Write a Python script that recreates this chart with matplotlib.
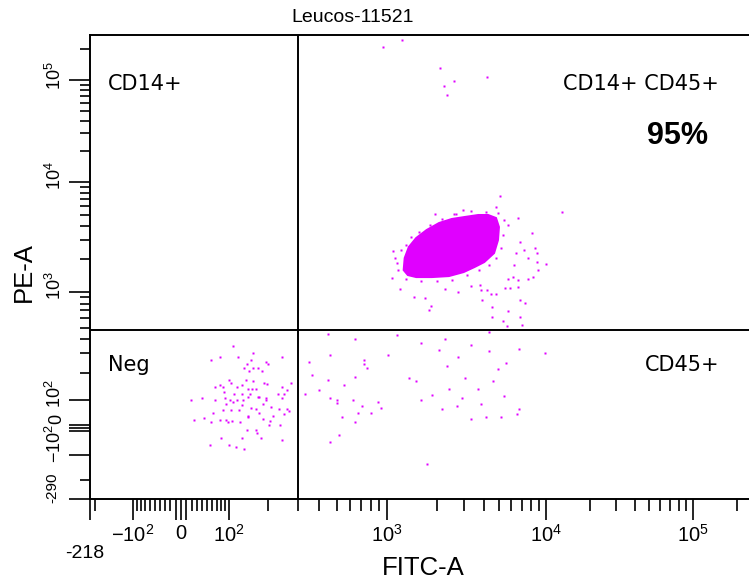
import numpy as np
import matplotlib
matplotlib.use('Agg')
import matplotlib.pyplot as plt
from matplotlib import font_manager as fm
from matplotlib.ticker import FixedLocator, NullFormatter
from matplotlib.patches import Polygon
from matplotlib.transforms import ScaledTranslation

# ---------------- data ----------------
title = "Leucos-11521"
x_label = "FITC-A"
y_label = "PE-A"
quadrant_labels = ["CD14+", "CD14+ CD45+", "Neg", "CD45+"]
percent_label = "95%"
gate_fitc = 300
gate_pe = 480

# dense main population (outline of the solid region)
blob_fitc = [1261, 1279, 1355, 1500, 1733, 2063, 2489, 3007, 3681, 4256, 4780,
             4990, 4920, 4645, 4017, 3474, 2963, 2384, 1862, 1500, 1336]
blob_pe = [1585, 2037, 2565, 3097, 3660, 4239, 4610, 4806, 5012, 5012, 4706,
           3899, 2970, 2263, 1874, 1688, 1520, 1398, 1369, 1369, 1428]

# events on the fuzzy rim of the dense population
rim_fitc = [1123, 1173, 1207, 1298, 1396, 1567, 1811, 2154, 2564, 3326, 4129, 4920,
            5370, 5289, 5140, 4780, 4313, 3733, 3097, 2489, 2004, 1613, 1298]
rim_pe = [2037, 1585, 2408, 2673, 3162, 3511, 4064, 4610, 5117, 5445, 5337, 5227,
          4518, 3296, 2512, 2037, 1758, 1585, 1428, 1285, 1259, 1259, 1313]

# Neg quadrant events
neg_fitc = [109, 58, 77, 119, 156, 242, 140, 151, 193, 200, 133, 156, 145, 170, 180,
            100, 105, 138, 156, 186, 197, 273, 77, 67, 85, 117, 128, 143, 153, 164,
            242, 259, 88, 111, 128, 148, 170, 193, 229, 249, 19, 40, 67, 90, 102,
            117, 131, 143, 174, 193, 242, 92, 109, 128, 151, 164, 183, 208, 232, 259,
            266, 62, 85, 105, 122, 143, 174, 214, 249, 25, 44, 58, 77, 92, 98,
            107, 124, 143, 183, 203, 205, 235, 140, 164, 167, 128, 177, 81, 242, 56,
            100, 114, 133]
neg_pe = [349, 264, 280, 280, 303, 280, 244, 264, 254, 244, 221, 221, 208, 221, 208,
          171, 159, 171, 167, 159, 155, 159, 151, 143, 143, 143, 151, 136, 136, 136,
          143, 133, 126, 120, 120, 120, 108, 105, 120, 120, 100, 105, 100, 105, 100,
          100, 100, 108, 108, 100, 105, 82, 93, 79, 68, 64, 82, 71, 64, 64,
          57, 50, 61, 61, 61, 39, 50, 39, 46, 25, 32, 18, 25, 25, 18,
          21, 18, 36, 29, 11, 21, 11, -7, -7, -15, -33, -33, -33, -41, -59,
          -59, -67, -74]

# CD45+ quadrant events
cd45_fitc = [447, 642, 1015, 458, 348, 727, 727, 758, 364, 447, 642, 551, 400, 330,
             458, 500, 500, 624, 883, 707, 920, 801, 669, 536, 642, 514, 458,
             1613, 2063, 2716, 2317, 3326, 4313, 5520, 6668, 9863, 1500, 1862, 2384,
             2878, 3681, 4571, 5370, 6668, 2154, 2678, 3326, 4129, 5140, 6471, 1733,
             1355, 1613, 4920, 3007, 3846, 1156, 2249, 4313]
cd45_pe = [443, 401, 292, 292, 254, 264, 244, 221, 190, 171, 180, 151, 133, 120,
           105, 100, 89, 100, 93, 75, 68, 50, 50, 36, 18, -22, -48,
           370, 322, 280, 230, 356, 316, 249, 329, 303, 167, 114, 136,
           105, 136, 167, 111, 64, 64, 75, 29, 36, 36, 46, -132,
           176, 100, 216, 176, 82, 434, 401, 461]

# CD14+ CD45+ quadrant sparse events (outside the dense core)
dp_fitc = [1225, 946, 2094, 4196, 2564, 2218, 2317,
           5058, 12850, 1945, 2636, 2917, 4780, 8166, 10000, 8913, 8777, 7704, 7278,
           1091, 1156, 1075, 1190, 1459, 1683, 1837, 1786, 2249, 2716, 3846, 4196,
           4446, 4780, 3899, 4508, 4508, 5445, 5852, 6571, 6765, 7382, 5689, 5289,
           5603, 6855, 7063, 6571, 7704, 5689, 3326, 3793, 8282, 6855, 6383, 6197,
           6108, 8531, 8777, 5689, 6571]
dp_pe = [246600, 210900, 131200, 107000, 97800, 87300, 71300,
         7460, 5337, 5117, 5117, 5560, 5928, 3434, 1797, 1585, 1874, 2037, 2408,
         2360, 1837, 1341, 1065, 906, 888, 758, 700, 1065, 1000, 1043, 1043,
         960, 960, 853, 743, 620, 1087, 1087, 1110, 853, 804, 686, 574,
         520, 620, 530, 1285, 1313, 1313, 1134, 1158, 1369, 2848, 2263, 1758,
         1369, 2512, 2263, 4064, 4706]

# tick values / labels
x_major = [-218, -100, -10, 0, 10, 100, 1000, 10000, 100000]
x_major_labels = ["", r"$\mathregular{-10^{2}}$", "", "0", "", r"$\mathregular{10^{2}}$",
                  r"$\mathregular{10^{3}}$", r"$\mathregular{10^{4}}$", r"$\mathregular{10^{5}}$"]
x_minor = ([-200] + list(range(-90, -10, 10)) + list(range(20, 100, 10)) +
           list(range(200, 1000, 100)) + list(range(2000, 10000, 1000)) +
           list(range(20000, 100000, 10000)) + [200000])
y_major = [-290, -100, -10, 0, 10, 100, 1000, 10000, 100000]
y_major_labels = ["", r"$\mathregular{-10^{2}}$", "", "0", "", r"$\mathregular{10^{2}}$",
                  r"$\mathregular{10^{3}}$", r"$\mathregular{10^{4}}$", r"$\mathregular{10^{5}}$"]
y_minor = ([-200] + list(range(200, 1000, 100)) + list(range(2000, 10000, 1000)) +
           list(range(20000, 100000, 10000)) + [200000])

# ---------------- biexponential-like display scale ----------------
x_anchor_v = np.array([-218, -100, 0, 100, 200, 300, 400, 500, 1000, 2000, 10000, 100000, 262144], float)
x_anchor_p = np.array([90, 133, 181, 229, 268, 298, 319, 337, 387, 437, 546, 693, 754], float) - 90
y_anchor_v = np.array([-290, -200, -100, 0, 100, 200, 1000, 10000, 100000, 300000], float)
y_anchor_p = 499 - np.array([499, 480, 455, 428, 400, 373, 292, 182, 80, 31], float)

def _g(v):
    return np.arcsinh(np.asarray(v, float) / 100.0)

def _ginv(u):
    return 100.0 * np.sinh(np.asarray(u, float))

def make_scale(av, ap):
    gv = _g(av)
    def fwd(v):
        return np.interp(_g(v), gv, ap)
    def inv(p):
        return _ginv(np.interp(np.asarray(p, float), ap, gv))
    return fwd, inv

fx, ix = make_scale(x_anchor_v, x_anchor_p)
fy, iy = make_scale(y_anchor_v, y_anchor_p)

# ---------------- fonts ----------------
names = {f.name for f in fm.fontManager.ttflist}
NARROW = 'Liberation Sans Narrow' if 'Liberation Sans Narrow' in names else 'Liberation Sans'
plt.rcParams['font.family'] = [NARROW, 'DejaVu Sans']
plt.rcParams['mathtext.fontset'] = 'custom'
plt.rcParams['mathtext.rm'] = NARROW
plt.rcParams['mathtext.it'] = NARROW
plt.rcParams['mathtext.bf'] = NARROW

W, H = 749, 582
fig = plt.figure(figsize=(W / 100, H / 100), dpi=100)
fig.patch.set_facecolor('white')
ax = fig.add_axes([90 / W, 1 - 499 / H, 659 / W, 464 / H])

ax.set_xscale('function', functions=(fx, ix))
ax.set_yscale('function', functions=(fy, iy))
ax.set_xlim(-218, float(ix(659)))
ax.set_ylim(-290, float(iy(464)))

dot = '#E000FF'
ax.add_patch(Polygon(np.column_stack([blob_fitc, blob_pe]), closed=True,
                     facecolor=dot, edgecolor=dot, lw=1.5, zorder=2))
for xs, ys in [(rim_fitc, rim_pe), (neg_fitc, neg_pe), (cd45_fitc, cd45_pe), (dp_fitc, dp_pe)]:
    ax.plot(xs, ys, 's', color=dot, ms=1.8, mec='none', zorder=3)

# gates
ax.axvline(gate_fitc, color='black', lw=1.4, zorder=4)
ax.axhline(gate_pe, color='black', lw=1.4, zorder=4)

# spines
ax.spines['right'].set_visible(False)
for s in ['top', 'left', 'bottom']:
    ax.spines[s].set_linewidth(1.4)

ax.xaxis.set_major_locator(FixedLocator(x_major))
ax.xaxis.set_minor_locator(FixedLocator(x_minor))
ax.set_xticklabels(x_major_labels)
ax.xaxis.set_minor_formatter(NullFormatter())
ax.yaxis.set_major_locator(FixedLocator(y_major))
ax.yaxis.set_minor_locator(FixedLocator(y_minor))
ax.set_yticklabels(y_major_labels, rotation=90, va='center')
ax.yaxis.set_minor_formatter(NullFormatter())

ax.tick_params(which='major', direction='out', length=15, width=1.2, labelsize=14.5, pad=3)
ax.tick_params(axis='y', which='major', labelsize=13)
ax.tick_params(axis='x', which='minor', direction='out', length=8.5, width=1.2)
ax.tick_params(axis='y', which='minor', direction='out', length=7, width=1.2)

# y tick labels sit slightly above their ticks in the reference
shifts = [0, 12, 0, 9, 0, 6, 6, 6, 4]
for lab, s in zip(ax.get_yticklabels(), shifts):
    lab.set_transform(lab.get_transform() + ScaledTranslation(0, s / 100, fig.dpi_scale_trans))

# extreme-value labels placed as in the reference
fig.text(85 / W, 1 - 553 / H, "-218", ha='center', va='center', fontsize=14)
fig.text(52 / W, 1 - 488 / H, "-290", ha='center', va='center', fontsize=11, rotation=90)

# quadrant labels
qfont = dict(family='DejaVu Sans', fontsize=15, color='black')
ax.text((108 - 90) / 659, (499 - 84) / 464, quadrant_labels[0], ha='left', va='center', transform=ax.transAxes, **qfont)
ax.text((719 - 90) / 659, (499 - 84) / 464, quadrant_labels[1], ha='right', va='center', transform=ax.transAxes, **qfont)
ax.text((108 - 90) / 659, (499 - 365) / 464, quadrant_labels[2], ha='left', va='center', transform=ax.transAxes, **qfont)
ax.text((719 - 90) / 659, (499 - 365) / 464, quadrant_labels[3], ha='right', va='center', transform=ax.transAxes, **qfont)
ax.text((677 - 90) / 659, (499 - 136) / 464, percent_label, ha='center', va='center', transform=ax.transAxes,
        family='Liberation Sans', fontweight='bold', fontsize=22)

# titles
fig.text(353 / W, 1 - 18 / H, title, ha='center', va='center', family='Liberation Sans', fontsize=14)
fig.text(423 / W, 1 - 568 / H, x_label, ha='center', va='center', fontsize=18.5)
fig.text(24 / W, 1 - 272 / H, y_label, ha='center', va='center', fontsize=18.5, rotation=90)

fig.savefig('out.png', dpi=100, facecolor='white')
